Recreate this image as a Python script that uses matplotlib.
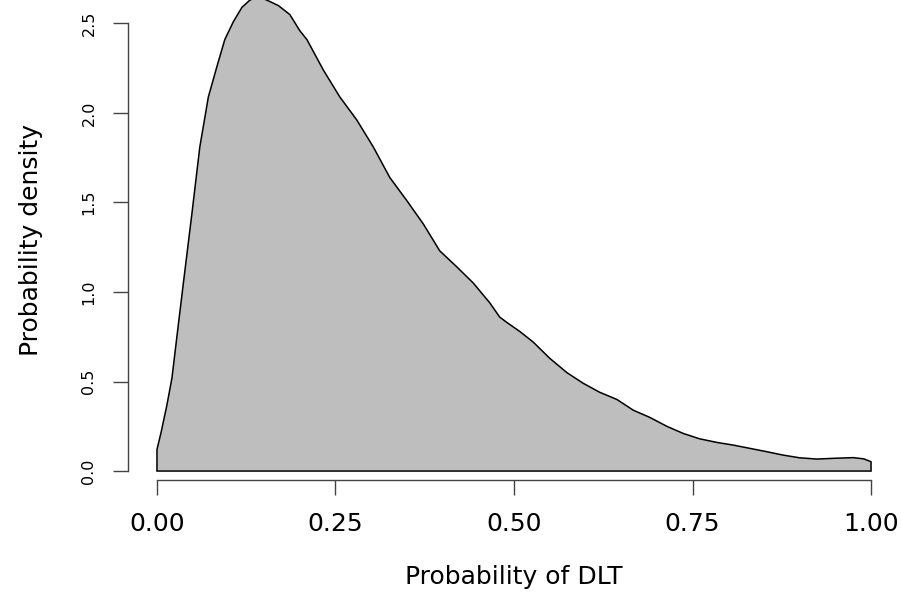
import matplotlib
matplotlib.use("Agg")
import matplotlib.pyplot as plt
import numpy as np

# density curve
prob = [0.000, 0.006, 0.014, 0.021, 0.030, 0.037, 0.049, 0.060, 0.072, 0.084,
        0.095, 0.107, 0.119, 0.130, 0.142, 0.154, 0.170, 0.186, 0.200, 0.210,
        0.233, 0.256, 0.280, 0.303, 0.326, 0.350, 0.373, 0.396, 0.420, 0.443,
        0.466, 0.480, 0.490, 0.508, 0.527, 0.550, 0.574, 0.597, 0.620, 0.644,
        0.667, 0.690, 0.714, 0.737, 0.760, 0.784, 0.807, 0.830, 0.854, 0.877,
        0.900, 0.924, 0.947, 0.975, 0.990, 1.000]
density = [0.12, 0.22, 0.37, 0.52, 0.82, 1.05, 1.44, 1.81, 2.09, 2.26,
           2.41, 2.51, 2.59, 2.63, 2.65, 2.63, 2.60, 2.55, 2.46, 2.41,
           2.24, 2.09, 1.96, 1.81, 1.64, 1.51, 1.38, 1.23, 1.14, 1.05,
           0.94, 0.86, 0.83, 0.78, 0.72, 0.63, 0.55, 0.49, 0.44, 0.40,
           0.34, 0.30, 0.25, 0.21, 0.18, 0.16, 0.145, 0.127, 0.108, 0.089,
           0.074, 0.067, 0.071, 0.075, 0.068, 0.052]

xticks = [0.0, 0.25, 0.5, 0.75, 1.0]
xticklabels = ["0.00", "0.25", "0.50", "0.75", "1.00"]
yticks = [0.0, 0.5, 1.0, 1.5, 2.0, 2.5]
yticklabels = ["0.0", "0.5", "1.0", "1.5", "2.0", "2.5"]

fig = plt.figure(figsize=(9.03, 5.96), dpi=100)
ax = fig.add_axes([128.4 / 903, 116 / 596, 771.2 / 903, 480 / 596])

# closed polygon like R's polygon(density(...))
px = [0.0] + prob + [1.0]
py = [0.0] + density + [0.0]
ax.fill(px, py, facecolor="#BEBEBE", edgecolor="black", linewidth=1.1)

ax.set_xlim(-0.04, 1.04)
ax.set_ylim(-0.05, 2.631)

for s in ["top", "right"]:
    ax.spines[s].set_visible(False)
ax.spines["left"].set_bounds(0, 2.5)
ax.spines["bottom"].set_bounds(0, 1)
for s in ["left", "bottom"]:
    ax.spines[s].set_color("#444444")
    ax.spines[s].set_linewidth(1.0)

ax.set_xticks(xticks)
ax.set_xticklabels(xticklabels, fontsize=18)
ax.set_yticks(yticks)
ax.set_yticklabels(yticklabels, fontsize=11.5, rotation=90, va="center")
ax.tick_params(axis="x", length=11, width=1.0, color="#444444", pad=12)
ax.tick_params(axis="y", length=11, width=1.0, color="#444444", pad=12)

ax.set_xlabel("Probability of DLT", fontsize=18, labelpad=21)
ax.set_ylabel("Probability density", fontsize=18, labelpad=28)

fig.savefig("out.png", dpi=100)
